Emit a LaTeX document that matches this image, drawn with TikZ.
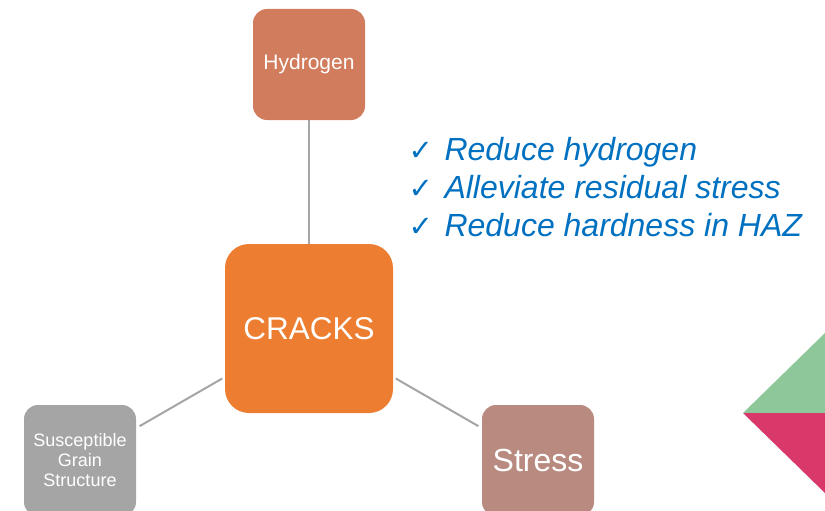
\documentclass[tikz,border=0pt]{standalone}
\usepackage{fontspec}
\setmainfont{Liberation Sans}
\newfontfamily\symfont{DejaVu Sans}
\definecolor{hydro}{RGB}{209,124,92}
\definecolor{crack}{RGB}{237,125,49}
\definecolor{grain}{RGB}{165,165,165}
\definecolor{stres}{RGB}{185,138,128}
\definecolor{leaf}{RGB}{142,200,154}
\definecolor{rose}{RGB}{217,56,106}
\definecolor{note}{RGB}{0,112,192}
\begin{document}
\begin{tikzpicture}[
  x=1pt, y=-1pt,
  box/.style={rectangle, rounded corners=14pt, inner sep=0pt, text=white,
    minimum width=112pt, minimum height=111pt, align=center},
  conn/.style={draw=grain, line width=2pt},
  tick/.style={anchor=base west, text=note,
    font=\fontsize{32}{38}\selectfont\itshape}
]
\useasboundingbox (0,0) rectangle (825,511);
\clip (0,0) rectangle (825,511);

\node [box, fill=hydro, font=\fontsize{21}{24}\selectfont] (hyd) at (309,64.5) {Hydrogen};
\node [box, fill=crack, rounded corners=24pt, minimum width=168pt, minimum height=169pt,
  font=\fontsize{31.5}{34}\selectfont] (cracks) at (309,328.5) {CRACKS};
\node [box, fill=grain, font=\fontsize{18}{20}\selectfont] (sgs) at (80,460.5)
  {Susceptible\\Grain\\Structure};
\node [box, fill=stres, font=\fontsize{32}{34}\selectfont] (str) at (538,460.5) {Stress};

\draw [conn] (hyd) -- (cracks);
\draw [conn, shorten <=3pt, shorten >=4pt] (cracks) -- (sgs);
\draw [conn, shorten <=3pt, shorten >=4pt] (cracks) -- (str);

\node [tick] (t1) at (405,160) {\makebox[36pt][l]{\symfont\fontsize{29}{38}\selectfont ✓}Reduce hydrogen};
\node [tick] (t2) at (405,198) {\makebox[36pt][l]{\symfont\fontsize{29}{38}\selectfont ✓}Alleviate residual stress};
\node [tick] (t3) at (405,236) {\makebox[36pt][l]{\symfont\fontsize{29}{38}\selectfont ✓}Reduce hardness in HAZ};

% corner triangles
\fill [leaf] (743,413) -- (825,333) -- (825,413) -- cycle;
\fill [rose] (743,413) -- (825,413) -- (825,493) -- cycle;
\end{tikzpicture}
\end{document}
